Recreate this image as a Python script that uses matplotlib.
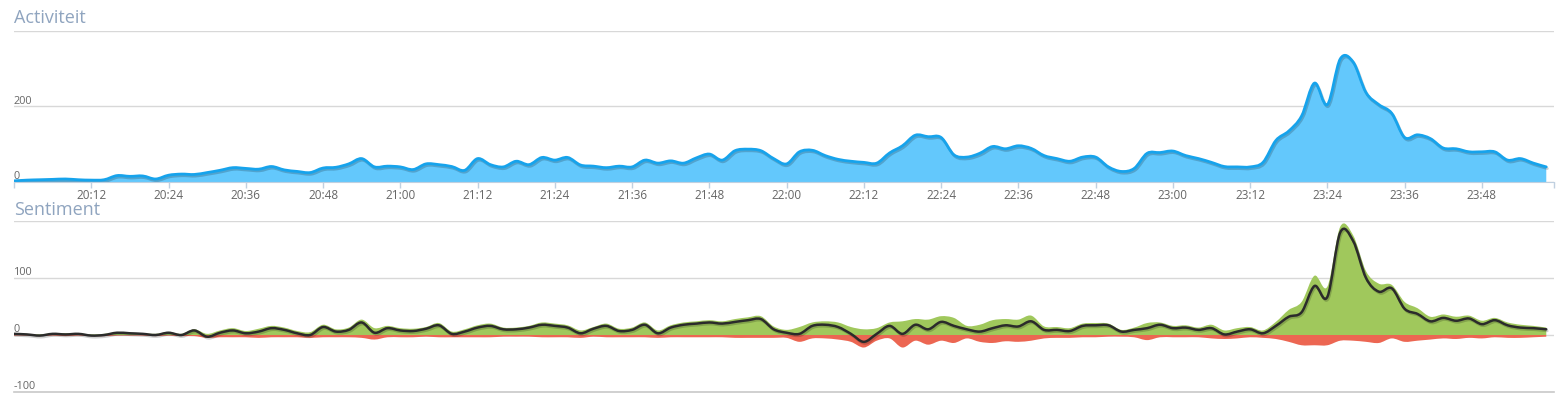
import matplotlib
matplotlib.use("Agg")
import matplotlib.pyplot as plt
import matplotlib.patheffects as pe
from matplotlib.path import Path
from matplotlib.patches import PathPatch
import numpy as np

plt.rcParams['font.family'] = ['Open Sans', 'DejaVu Sans']

# minutes after 20:00, one reading every 2 minutes
minutes = np.arange(0, 240, 2)

activiteit = [3, 5, 6, 7, 8, 6, 5, 6, 17, 15,
              16, 8, 18, 21, 20, 25, 31, 38, 36, 34,
              41, 32, 28, 25, 37, 39, 48, 62, 40, 42,
              40, 33, 48, 46, 41, 31, 62, 46, 40, 55,
              46, 65, 58, 65, 45, 42, 38, 42, 40, 58,
              50, 56, 50, 64, 74, 58, 83, 87, 83, 62,
              48, 80, 84, 70, 60, 55, 52, 50, 77, 96,
              124, 120, 118, 72, 66, 76, 94, 88, 96, 89,
              70, 62, 55, 66, 66, 40, 28, 36, 76, 78,
              82, 70, 62, 52, 41, 40, 40, 52, 110, 135,
              175, 262, 205, 326, 318, 237, 205, 182, 118, 125,
              115, 90, 88, 80, 80, 80, 58, 62, 50, 40]

positief = [3, 2, 1, 3, 3, 3, 1, 2, 5, 4,
            3, 2, 5, 2, 10, 2, 8, 12, 7, 11,
            16, 13, 7, 5, 18, 10, 13, 27, 12, 16,
            12, 11, 14, 21, 6, 10, 17, 20, 13, 13,
            16, 22, 20, 17, 8, 14, 20, 11, 13, 22,
            8, 17, 22, 24, 26, 24, 28, 31, 33, 15,
            9, 14, 22, 24, 22, 14, 10, 12, 22, 24,
            28, 27, 33, 30, 16, 18, 26, 28, 27, 34,
            15, 14, 12, 20, 21, 20, 9, 13, 21, 22,
            16, 17, 13, 18, 8, 12, 14, 8, 23, 44,
            58, 104, 85, 190, 175, 112, 90, 88, 58, 47,
            32, 36, 32, 34, 25, 30, 22, 18, 16, 13]

negatief = [-1, -1, -2, -1, -2, -1, -2, -2, -1, -1,
            -1, -2, -1, -2, -2, -5, -4, -4, -4, -5,
            -4, -4, -4, -5, -4, -4, -4, -5, -8, -4,
            -4, -4, -3, -4, -4, -4, -4, -4, -3, -3,
            -3, -4, -4, -4, -5, -3, -4, -4, -4, -4,
            -5, -4, -4, -4, -4, -4, -5, -5, -5, -5,
            -5, -12, -6, -6, -8, -12, -22, -10, -6, -22,
            -10, -17, -10, -14, -6, -12, -14, -11, -12, -10,
            -6, -5, -5, -4, -4, -3, -3, -4, -9, -4,
            -4, -4, -4, -6, -7, -6, -4, -5, -7, -12,
            -18, -18, -18, -10, -10, -12, -14, -6, -12, -10,
            -8, -6, -7, -5, -6, -4, -5, -5, -4, -3]

netto = np.array(positief) + np.array(negatief)

tick_min = list(range(0, 240, 12))


def fmt(m):
    return "%d:%02d" % (20 + m // 60, m % 60)


def spline(x, y):
    # bezier path through the points (like a highcharts "spline" series)
    p = np.column_stack([x, y]).astype(float)
    n = len(p)
    verts = [p[0]]
    codes = [Path.MOVETO]
    for i in range(n - 1):
        p0 = p[i - 1] if i > 0 else p[i]
        p3 = p[i + 2] if i + 2 < n else p[i + 1]
        c1 = p[i] + (p[i + 1] - p0) / 6
        c2 = p[i + 1] - (p3 - p[i]) / 6
        verts += [c1, c2, p[i + 1]]
        codes += [Path.CURVE4] * 3
    return verts, codes


def area(ax, x, y, base, color):
    verts, codes = spline(x, y)
    verts = verts + [(x[-1], base), (x[0], base), (x[0], base)]
    codes = codes + [Path.LINETO, Path.LINETO, Path.CLOSEPOLY]
    ax.add_patch(PathPatch(Path(verts, codes), facecolor=color, lw=0, zorder=2))


def line(ax, x, y, color, lw):
    verts, codes = spline(x, y)
    ax.add_patch(PathPatch(Path(verts, codes), fill=False, edgecolor=color, lw=lw,
                           joinstyle='round', capstyle='round', zorder=3,
                           path_effects=shadow))


W, H = 1568, 394
fig = plt.figure(figsize=(W / 100, H / 100), dpi=100)
ax1 = fig.add_axes([14 / W, 1 - 182 / H, 1540 / W, 151 / H])
ax2 = fig.add_axes([14 / W, 1 - 392 / H, 1540 / W, 171 / H])

grid_c = '#d8d8d8'
label_c = '#666666'
title_c = '#8fa4bf'
shadow = [pe.SimpleLineShadow(offset=(0.8, -1.2), shadow_color='black', alpha=0.18),
          pe.Normal()]

# --- Activiteit ---
area(ax1, minutes, activiteit, 0, '#63c8fc')
line(ax1, minutes, activiteit, '#16a3ec', 2.0)
ax1.set_xlim(0, 239.2)
ax1.set_ylim(0, 400)
ax1.set_yticks([0, 200, 400])
ax1.grid(axis='y', color=grid_c, lw=1, zorder=0)
ax1.tick_params(axis='y', length=0, labelleft=False)
ax1.set_xticks(tick_min)
ax1.set_xticklabels([''] + [fmt(m) for m in tick_min[1:]])
ax1.set_xticks([239.2], minor=True)
ax1.tick_params(axis='x', which='both', length=4.5, width=1, color='#c0d0e0',
                labelsize=8.5, labelcolor=label_c, pad=0.5)
for s in ['top', 'left', 'right']:
    ax1.spines[s].set_visible(False)
ax1.spines['bottom'].set_color('#c0d0e0')
ax1.spines['bottom'].set_zorder(4)
for v in [0, 200]:
    ax1.text(0, v, str(v), transform=ax1.get_yaxis_transform(), ha='left',
             va='bottom', fontsize=7.8, color=label_c, zorder=5)
ax1.text(0, 1.026, 'Activiteit', transform=ax1.transAxes, ha='left', va='bottom',
         fontsize=13, color=title_c)

# --- Sentiment ---
area(ax2, minutes, positief, 0, '#a0c85c')
area(ax2, minutes, negatief, 0, '#ec6652')
line(ax2, minutes, netto, '#2b2b2b', 1.8)
ax2.set_xlim(0, 239.2)
ax2.set_ylim(-100, 200)
ax2.set_yticks([0, 100, 200])
ax2.grid(axis='y', color=grid_c, lw=1, zorder=0)
ax2.axhline(-100, color='#c8c8c8', lw=1.2, clip_on=False, zorder=0)
ax2.tick_params(axis='y', length=0, labelleft=False)
ax2.set_xticks([])
for s in ['top', 'left', 'right', 'bottom']:
    ax2.spines[s].set_visible(False)
for v in [-100, 0, 100]:
    ax2.text(0, v, str(v), transform=ax2.get_yaxis_transform(), ha='left',
             va='bottom', fontsize=7.8, color=label_c, zorder=1)
ax2.text(0, 1.012, 'Sentiment', transform=ax2.transAxes, ha='left', va='bottom',
         fontsize=13, color=title_c)

fig.savefig('out.png', dpi=100)
